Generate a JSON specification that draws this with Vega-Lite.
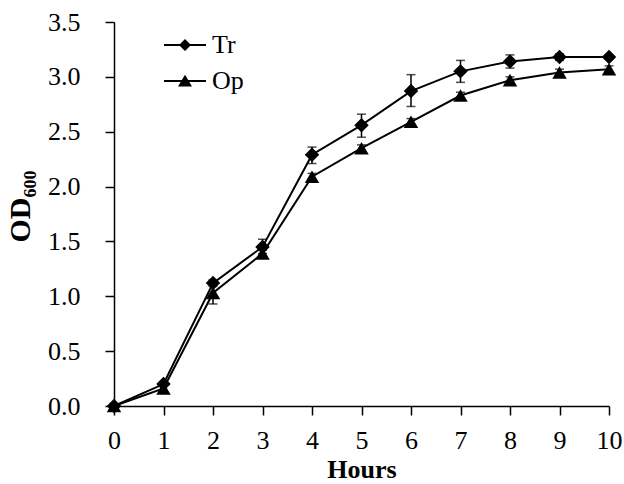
{
  "$schema": "https://vega.github.io/schema/vega-lite/v6.json",
  "width": 495,
  "height": 384,
  "autosize": {"type": "none"},
  "padding": {"left": 114, "top": 22, "right": 15, "bottom": 78},
  "background": "white",
  "config": {
    "view": {"stroke": null},
    "font": "Liberation Serif",
    "axis": {
      "grid": false,
      "domainColor": "black",
      "domainWidth": 1.5,
      "tickColor": "black",
      "tickWidth": 1.5,
      "tickSize": 9,
      "labelFont": "Liberation Serif",
      "labelFontSize": 26,
      "labelColor": "black",
      "labelFlush": false,
      "titleFont": "Liberation Serif",
      "titleFontSize": 27,
      "titleFontWeight": "bold",
      "titleColor": "black"
    }
  },
  "data": {
    "values": [
      {"hour": 0, "series": "Tr", "od": 0.0, "lo": 0.0, "hi": 0.0},
      {"hour": 1, "series": "Tr", "od": 0.2, "lo": 0.18, "hi": 0.22},
      {"hour": 2, "series": "Tr", "od": 1.12, "lo": 1.09, "hi": 1.15},
      {"hour": 3, "series": "Tr", "od": 1.45, "lo": 1.39, "hi": 1.52},
      {"hour": 4, "series": "Tr", "od": 2.29, "lo": 2.21, "hi": 2.36},
      {"hour": 5, "series": "Tr", "od": 2.56, "lo": 2.45, "hi": 2.66},
      {"hour": 6, "series": "Tr", "od": 2.87, "lo": 2.73, "hi": 3.02},
      {"hour": 7, "series": "Tr", "od": 3.05, "lo": 2.95, "hi": 3.15},
      {"hour": 8, "series": "Tr", "od": 3.14, "lo": 3.08, "hi": 3.2},
      {"hour": 9, "series": "Tr", "od": 3.18, "lo": 3.15, "hi": 3.21},
      {"hour": 10, "series": "Tr", "od": 3.18, "lo": 3.16, "hi": 3.2},
      {"hour": 0, "series": "Op", "od": 0.0, "lo": 0.0, "hi": 0.0},
      {"hour": 1, "series": "Op", "od": 0.16, "lo": 0.14, "hi": 0.18},
      {"hour": 2, "series": "Op", "od": 1.03, "lo": 0.93, "hi": 1.13},
      {"hour": 3, "series": "Op", "od": 1.39, "lo": 1.36, "hi": 1.42},
      {"hour": 4, "series": "Op", "od": 2.09, "lo": 2.06, "hi": 2.12},
      {"hour": 5, "series": "Op", "od": 2.35, "lo": 2.32, "hi": 2.38},
      {"hour": 6, "series": "Op", "od": 2.59, "lo": 2.56, "hi": 2.62},
      {"hour": 7, "series": "Op", "od": 2.83, "lo": 2.8, "hi": 2.86},
      {"hour": 8, "series": "Op", "od": 2.97, "lo": 2.94, "hi": 3.0},
      {"hour": 9, "series": "Op", "od": 3.04, "lo": 3.01, "hi": 3.07},
      {"hour": 10, "series": "Op", "od": 3.07, "lo": 3.04, "hi": 3.1}
    ]
  },
  "encoding": {
    "x": {
      "field": "hour",
      "type": "quantitative",
      "scale": {"domain": [0, 10], "nice": false, "zero": false},
      "axis": {"values": [0,1,2,3,4,5,6,7,8,9,10], "title": "Hours", "labelPadding": 12, "titlePadding": 3, "titleFontSize": 26}
    }
  },
  "resolve": {"scale": {"shape": "independent"}},
  "layer": [
    {
      "mark": {"type": "rule", "color": "black", "strokeWidth": 1.5},
      "encoding": {
        "y": {"field": "lo", "type": "quantitative", "scale": {"domain": [0, 3.5], "nice": false}},
        "y2": {"field": "hi"}
      }
    },
    {
      "mark": {"type": "tick", "color": "black", "orient": "horizontal", "size": 9, "thickness": 1.5},
      "encoding": {"y": {"field": "lo", "type": "quantitative"}}
    },
    {
      "mark": {"type": "tick", "color": "black", "orient": "horizontal", "size": 9, "thickness": 1.5},
      "encoding": {"y": {"field": "hi", "type": "quantitative"}}
    },
    {
      "mark": {"type": "line", "color": "black", "strokeWidth": 2},
      "encoding": {
        "y": {"field": "od", "type": "quantitative"},
        "detail": {"field": "series"}
      }
    },
    {
      "mark": {"type": "point", "filled": true, "opacity": 1, "color": "black", "size": 210},
      "encoding": {
        "y": {
          "field": "od",
          "type": "quantitative",
          "axis": {"values": [0,0.5,1,1.5,2,2.5,3,3.5], "format": ".1f", "title": "OD₆₀₀", "titleFontSize": 30, "labelPadding": 25, "titlePadding": 12, "titleY": 184}
        },
        "shape": {
          "field": "series",
          "type": "nominal",
          "scale": {"domain": ["Tr", "Op"], "range": ["diamond", "triangle-up"]},
          "legend": null
        }
      }
    },
    {
      "mark": {"type": "point", "filled": true, "opacity": 0, "color": "black", "size": 400},
      "encoding": {
        "y": {"field": "od", "type": "quantitative"},
        "shape": {
          "field": "series",
          "type": "nominal",
          "scale": {
            "domain": ["Tr", "Op"],
            "range": [
              "M-2.1,-0.1L2.1,-0.1L2.1,0.1L-2.1,0.1ZM0,-0.6L0.6,0L0,0.6L-0.6,0Z",
              "M-2.1,-0.1L2.1,-0.1L2.1,0.1L-2.1,0.1ZM0,-0.62L0.7,0.55L-0.7,0.55Z"
            ]
          },
          "legend": {
            "title": null,
            "orient": "none",
            "legendX": 58,
            "legendY": 10,
            "padding": 0,
            "labelFont": "Liberation Serif",
            "labelFontSize": 26,
            "labelColor": "black",
            "labelOffset": 14,
            "rowPadding": 10,
            "symbolSize": 400,
            "symbolOpacity": 1,
            "symbolFillColor": "black"
          }
        }
      }
    }
  ]
}
